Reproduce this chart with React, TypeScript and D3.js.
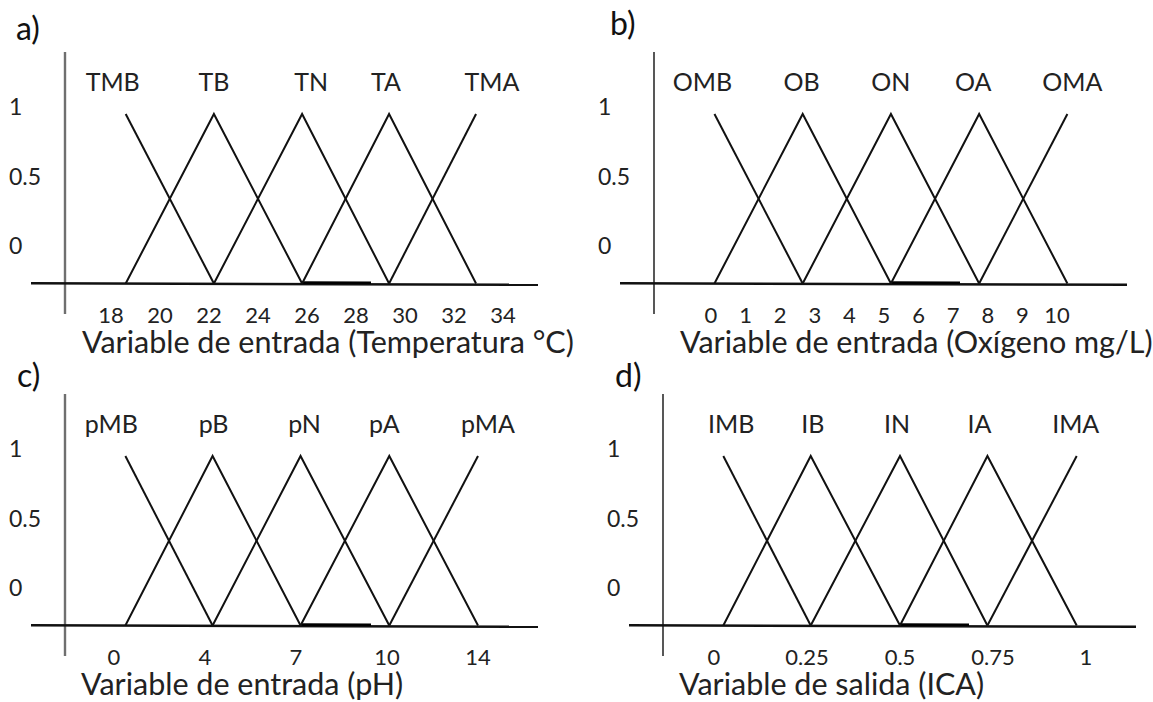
import React from "react";
import * as d3 from "d3";

// Fuzzy partitions: five triangular sets per variable, peaks in each variable's own units.
const tempSets = ["TMB", "TB", "TN", "TA", "TMA"];
const tempPeaks = [18.6, 22.2, 25.8, 29.35, 32.9];
const tempTicks = [18, 20, 22, 24, 26, 28, 30, 32, 34];

const oxySets = ["OMB", "OB", "ON", "OA", "OMA"];
const oxyPeaks = [0.1, 2.65, 5.2, 7.75, 10.3];
const oxyTicks = [0, 1, 2, 3, 4, 5, 6, 7, 8, 9, 10];

const phSets = ["pMB", "pB", "pN", "pA", "pMA"];
const phPeaks = [0.5, 4.25, 7.15, 10.1, 14];
const phTicks = [0, 4, 7, 10, 14];

const icaSets = ["IMB", "IB", "IN", "IA", "IMA"];
const icaPeaks = [0.025, 0.26, 0.5, 0.735, 0.975];
const icaTicks = [0, 0.25, 0.5, 0.75, 1];

const membershipTicks = [1, 0.5, 0];

const FONT = "Lato, 'Open Sans', sans-serif";

type PanelSpec = {
  letter: string;
  letterPos: [number, number];
  sets: string[];
  peaks: number[];
  ticks: number[];
  title: string;
  titleDx: number;
  axisX: number;
  baseY: number;
  range: [number, number];
  evenTicks: boolean;
  axisColor: string;
  axisWidth: number;
  labelShift: number[];
};

const panels: PanelSpec[] = [
  {
    letter: "a)", letterPos: [16, 40],
    sets: tempSets, peaks: tempPeaks, ticks: tempTicks,
    title: "Variable de entrada (Temperatura °C)", titleDx: 17,
    axisX: 65, baseY: 283, range: [46, 438], evenTicks: false,
    axisColor: "#6f6f6f", axisWidth: 2.4,
    labelShift: [-13, 0, 9, -3, 16],
  },
  {
    letter: "b)", letterPos: [610, 35],
    sets: oxySets, peaks: oxyPeaks, ticks: oxyTicks,
    title: "Variable de entrada (Oxígeno mg/L)", titleDx: 26,
    axisX: 654, baseY: 283, range: [57, 403], evenTicks: false,
    axisColor: "#111", axisWidth: 1.4,
    labelShift: [-12, -1, 0, -6, 5],
  },
  {
    letter: "c)", letterPos: [17, 387],
    sets: phSets, peaks: phPeaks, ticks: phTicks,
    title: "Variable de entrada (pH)", titleDx: 16,
    axisX: 65, baseY: 625, range: [49, 413], evenTicks: true,
    axisColor: "#6f6f6f", axisWidth: 2.4,
    labelShift: [-14, 1, 4, -5, 10],
  },
  {
    letter: "d)", letterPos: [615, 387],
    sets: icaSets, peaks: icaPeaks, ticks: icaTicks,
    title: "Variable de salida (ICA)", titleDx: 16,
    axisX: 663, baseY: 625, range: [51, 423], evenTicks: false,
    axisColor: "#111", axisWidth: 1.4,
    labelShift: [8, 2, -3, -8, -1],
  },
];

const fmt = (v: number) => String(v);

function Panel({ p }: { p: PanelSpec }) {
  const r0 = p.axisX + p.range[0];
  const r1 = p.axisX + p.range[1];
  // Evenly spaced ticks (pH) use a piecewise-linear scale; others are linear.
  const x = p.evenTicks
    ? d3
        .scaleLinear()
        .domain(p.ticks)
        .range(p.ticks.map((_, i) => r0 + ((r1 - r0) * i) / (p.ticks.length - 1)))
    : d3.scaleLinear().domain([p.ticks[0], p.ticks[p.ticks.length - 1]]).range([r0, r1]);
  const y = d3.scaleLinear().domain([0, 1]).range([p.baseY + 0.5, p.baseY - 169]);
  // y tick labels sit in a compressed band above the baseline
  const yLab = d3.scaleLinear().domain([0, 1]).range([p.baseY - 38, p.baseY - 177]);

  const line = d3
    .line<[number, number]>()
    .x((d) => x(d[0]))
    .y((d) => y(d[1]));

  const n = p.peaks.length;
  const shapes: [number, number][][] = p.peaks.map((c, i) => {
    const pts: [number, number][] = [];
    if (i > 0) pts.push([p.peaks[i - 1], 0]);
    pts.push([c, 1]);
    if (i < n - 1) pts.push([p.peaks[i + 1], 0]);
    return pts;
  });

  const hx0 = p.axisX - 34;
  const hx1 = p.axisX + 473;

  return (
    <g>
      <text x={p.letterPos[0]} y={p.letterPos[1]} fontSize={32} fontFamily={FONT} fill="#111">
        {p.letter}
      </text>
      {/* vertical axis */}
      <line
        x1={p.axisX} x2={p.axisX}
        y1={p.baseY - 231} y2={p.baseY + 31}
        stroke={p.axisColor} strokeWidth={p.axisWidth}
      />
      {/* horizontal axis */}
      <line
        x1={hx0} x2={hx1}
        y1={p.baseY + 0.3} y2={p.baseY + 1.8}
        stroke="#111" strokeWidth={2.4}
      />
      <line
        x1={p.axisX + 236} x2={p.axisX + 306}
        y1={p.baseY - 0.4} y2={p.baseY - 0.2}
        stroke="#000" strokeWidth={2.6}
      />
      {shapes.map((s, i) => (
        <path key={i} d={line(s) || ""} fill="none" stroke="#111" strokeWidth={2} />
      ))}
      {p.sets.map((s, i) => (
        <text
          key={s}
          x={x(p.peaks[i]) + p.labelShift[i]}
          y={p.baseY - 202}
          fontSize={25}
          fontFamily={FONT}
          textAnchor="middle"
          dominantBaseline="central"
          fill="#222"
        >
          {s}
        </text>
      ))}
      {membershipTicks.map((t) => (
        <text
          key={t}
          x={p.axisX - 56}
          y={yLab(t)}
          fontSize={23}
          fontFamily={FONT}
          dominantBaseline="central"
          fill="#222"
        >
          {fmt(t)}
        </text>
      ))}
      {p.ticks.map((t) => (
        <text
          key={t}
          x={x(t)}
          y={p.baseY + 40}
          fontSize={22}
          fontFamily={FONT}
          textAnchor="middle"
          fill="#222"
        >
          {fmt(t)}
        </text>
      ))}
      <text
        x={p.axisX + p.titleDx}
        y={p.baseY + 70}
        fontSize={30.5}
        fontFamily={FONT}
        fill="#222"
      >
        {p.title}
      </text>
    </g>
  );
}

export default function App() {
  return (
    <svg
      width={1153}
      height={702}
      viewBox="0 0 1153 702"
      style={{ position: "absolute", left: 0, top: 0, background: "#fff" }}
    >
      <rect width={1153} height={702} fill="#fff" />
      {panels.map((p) => (
        <Panel key={p.letter} p={p} />
      ))}
    </svg>
  );
}
